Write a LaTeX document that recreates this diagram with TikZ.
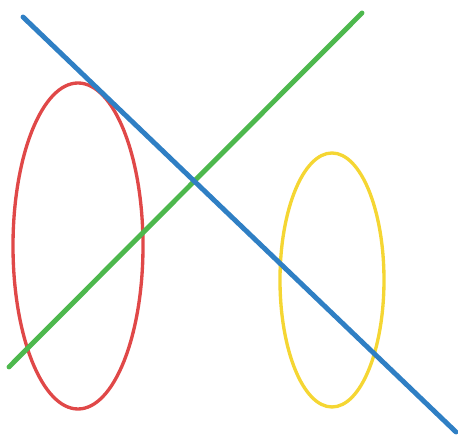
\documentclass[tikz,border=0pt]{standalone}
\usepackage{tikz}
\definecolor{mRed}{HTML}{E04848}
\definecolor{mYellow}{HTML}{F5D633}
\definecolor{mBlue}{HTML}{2F7FC4}
\definecolor{mGreen}{HTML}{4DB84D}
\tikzset{
  ring/.style={line width=1.9pt},
  cut/.style={line width=2.8pt, line cap=round}
}
\begin{document}
\begin{tikzpicture}[x=0.02cm, y=-0.02cm]
    \useasboundingbox (0,0) rectangle (458,445);
    % two ellipses
    \draw[ring, mRed] (78,246) ellipse [x radius=65, y radius=163];
    \draw[ring, mYellow] (332,280) ellipse [x radius=52, y radius=127];
    % crossing lines
    \coordinate (g1) at (9,367);
    \coordinate (g2) at (362,13);
    \coordinate (b1) at (23,17);
    \coordinate (b2) at (456,432);
    \draw[cut, mGreen] (g1) -- (g2);
    \draw[cut, mBlue] (b1) -- (b2);
  \end{tikzpicture}
\end{document}
